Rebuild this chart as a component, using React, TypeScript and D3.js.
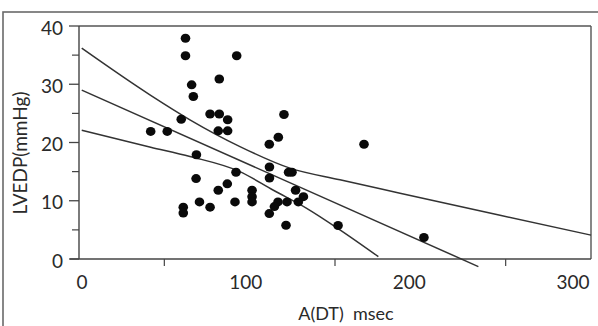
import React from "react";
import * as d3 from "d3";

// A(DT) in msec versus LVEDP in mmHg, one entry per patient
const dtValues = [
  42.0, 51.7, 59.9, 62.4, 62.4, 66.0, 67.0, 68.8, 68.6, 61.1, 61.1, 70.6, 76.8,
  76.8, 82.2, 87.1, 81.6, 87.1, 82.2, 92.4, 81.6, 86.9, 92.0, 91.4, 101.4, 101.4,
  101.4, 111.5, 116.8, 120.1, 111.6, 111.6, 122.8, 124.8, 126.9, 131.5, 116.6,
  114.5, 111.5, 121.9, 128.5, 121.3, 151.8, 167.0, 202.1,
];
const lvedpValues = [
  21.9, 21.9, 24.0, 37.9, 34.9, 29.9, 27.9, 17.9, 13.8, 8.9, 7.9, 9.8, 8.9,
  24.9, 24.9, 23.9, 22.0, 22.0, 30.9, 34.9, 11.8, 12.9, 14.9, 9.8, 11.8, 10.7,
  9.8, 19.7, 20.9, 24.8, 15.8, 13.9, 14.9, 14.9, 11.8, 10.7, 9.8, 9.0, 7.8, 9.8,
  9.8, 5.8, 5.75, 19.7, 3.7,
];

// Regression line: start and end
const fitX = [1.6, 234.0];
const fitY = [29.0, -1.3];

// Upper confidence band
const upperX = [1.6, 42, 65, 94.3, 123.6, 152.9, 188.1, 246.7, 300];
const upperY = [36.2, 28.1, 23.9, 19.3, 15.6, 13.6, 11.3, 7.5, 4.1];

// Lower confidence band
const lowerX = [1.6, 42, 65, 94.3, 113.9, 133.4, 152.9, 175.4];
const lowerY = [22.1, 19.2, 17.6, 15.0, 11.8, 8.7, 5.0, 0.4];

const xLabelTicks = [0, 100, 200, 300];
const xMarkTicks = [50, 150, 250];
const yMajorTicks = [0, 10, 20, 30, 40];
const yMinorTicks = [5, 15, 25, 35];

const W = 598;
const H = 326;
const left = 79;
const right = 591;
const top = 26;
const bottom = 259;

const FONT = "Lato, 'Open Sans', sans-serif";
const INK = "#2a2a2a";

export default function App() {
  const x = d3.scaleLinear().domain([0, 300]).range([left, right]);
  const y = d3.scaleLinear().domain([0, 40]).range([bottom, top]);
  const xLabelPos = d3.scaleLinear().domain([0, 300]).range([82, 573]);

  const straight = d3
    .line<[number, number]>()
    .x((d) => x(d[0]))
    .y((d) => y(d[1]));
  const smooth = d3
    .line<[number, number]>()
    .x((d) => x(d[0]))
    .y((d) => y(d[1]))
    .curve(d3.curveMonotoneX);

  const points = dtValues.map((v, i) => [v, lvedpValues[i]] as [number, number]);
  const fitPts = fitX.map((v, i) => [v, fitY[i]] as [number, number]);
  const upperPts = upperX.map((v, i) => [v, upperY[i]] as [number, number]);
  const lowerPts = lowerX.map((v, i) => [v, lowerY[i]] as [number, number]);

  return (
    <svg
      width={W}
      height={H}
      style={{ position: "absolute", left: 0, top: 0, background: "#fff" }}
    >
      {/* outer figure frame */}
      <rect x={3} y={12} width={620} height={340} fill="none" stroke="#6a6a6a" strokeWidth={1.6} />

      {/* plot box */}
      <line x1={left} y1={top} x2={right} y2={top} stroke="#555" strokeWidth={1.4} />
      <line x1={right} y1={top} x2={right} y2={bottom} stroke="#555" strokeWidth={1.4} />
      <line x1={left} y1={top} x2={left} y2={bottom} stroke="#444" strokeWidth={1.4} />
      <line x1={left - 9} y1={bottom} x2={right} y2={bottom} stroke="#444" strokeWidth={1.4} />

      {/* y ticks */}
      {yMajorTicks.map((t) => (
        <line key={"ym" + t} x1={left - 10} x2={left} y1={y(t)} y2={y(t)} stroke="#444" strokeWidth={1.3} />
      ))}
      {yMinorTicks.map((t) => (
        <line key={"yn" + t} x1={left - 7} x2={left} y1={y(t)} y2={y(t)} stroke="#444" strokeWidth={1.2} />
      ))}
      {yMajorTicks.map((t) => (
        <text
          key={"yl" + t}
          x={63}
          y={y(t) + 1}
          textAnchor="end"
          dominantBaseline="central"
          fontFamily={FONT}
          fontSize={19}
          fill={INK}
        >
          {t}
        </text>
      ))}

      {/* x ticks */}
      {xMarkTicks.map((t) => (
        <line key={"xm" + t} x1={x(t)} x2={x(t)} y1={bottom} y2={bottom + 7} stroke="#444" strokeWidth={1.2} />
      ))}
      {xLabelTicks.map((t) => (
        <text
          key={"xl" + t}
          x={xLabelPos(t)}
          y={289}
          textAnchor="middle"
          fontFamily={FONT}
          fontSize={19}
          fill={INK}
        >
          {t}
        </text>
      ))}

      {/* axis titles */}
      <text
        x={346}
        y={320}
        textAnchor="middle"
        fontFamily={FONT}
        fontSize={18}
        fill={INK}
        style={{ whiteSpace: "pre" }}
      >
        {"A(DT)  msec"}
      </text>
      <text
        transform={`translate(27,153) rotate(-90)`}
        textAnchor="middle"
        fontFamily={FONT}
        fontSize={19}
        fill={INK}
      >
        LVEDP(mmHg)
      </text>

      {/* regression line and confidence bands */}
      <path d={straight(fitPts) || ""} fill="none" stroke="#333" strokeWidth={1.5} />
      <path d={smooth(upperPts) || ""} fill="none" stroke="#333" strokeWidth={1.5} />
      <path d={smooth(lowerPts) || ""} fill="none" stroke="#333" strokeWidth={1.5} />

      {/* patients */}
      {points.map((p, i) => (
        <ellipse key={"pt" + i} cx={x(p[0])} cy={y(p[1])} rx={4.8} ry={4.5} fill="#0a0a0a" />
      ))}
    </svg>
  );
}
